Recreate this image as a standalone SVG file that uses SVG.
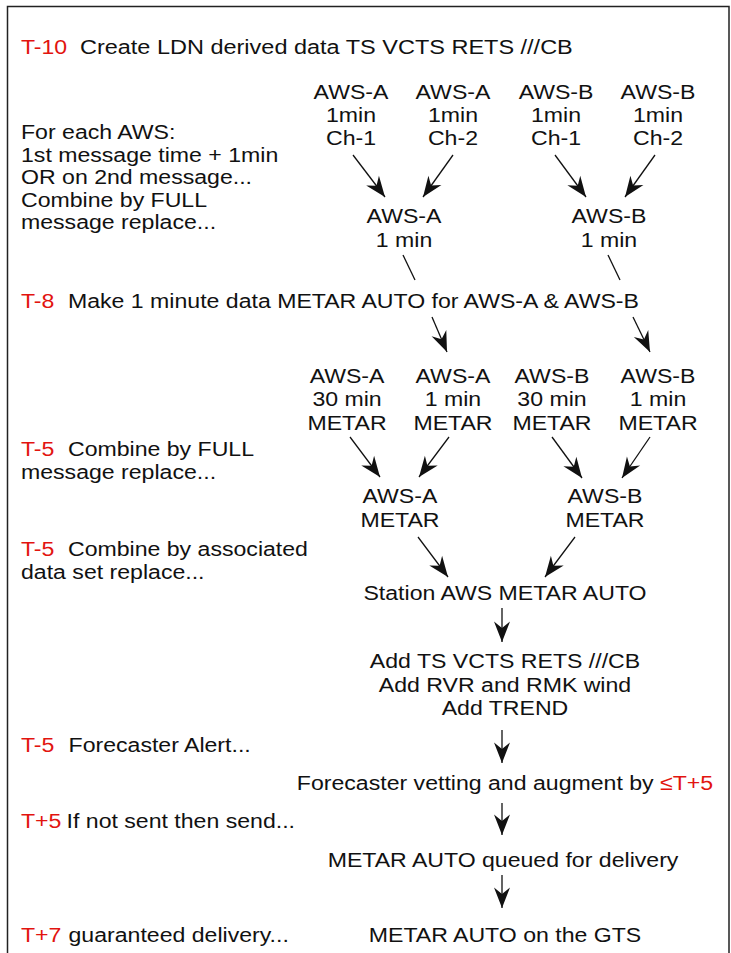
<svg xmlns="http://www.w3.org/2000/svg" width="731" height="953" viewBox="0 0 731 953">
  <style>
    text { font-family: "Liberation Sans", Arial, Helvetica, sans-serif; font-size: 21px; fill: #111; }
    .c { text-anchor: middle; }
    .r { fill: #e2140f; }
    .edge { fill: none; stroke: #111; stroke-width: 1.3; }
    .arr { marker-end: url(#head); }
  </style>
  <defs>
    <marker id="head" viewBox="-22 -10 24 20" markerWidth="24" markerHeight="20" refX="0" refY="0" orient="auto" markerUnits="userSpaceOnUse">
      <path d="M0,0 L-20.5,-8 L-14,0 L-20.5,8 Z" fill="#111"/>
    </marker>
  </defs>

  <rect x="0" y="0" width="731" height="953" fill="#fff"/>
  <!-- frame, open at the bottom edge -->
  <path d="M7.5,960 V6.5 H729 V960" fill="none" stroke="#222" stroke-width="1.5"/>

  <!-- timeline annotations on the left (text is widened 10% horizontally) -->
  <g id="notes" transform="scale(1.1 1)">
    <text x="19.1" y="54"><tspan class="r">T-10</tspan><tspan x="72.7" textLength="448" lengthAdjust="spacingAndGlyphs">Create LDN derived data TS VCTS RETS ///CB</tspan></text>
    <text x="19.1" y="139">For each AWS:</text>
    <text x="19.1" y="162">1st message time + 1min</text>
    <text x="19.1" y="184.5">OR on 2nd message...</text>
    <text x="19.1" y="207">Combine by FULL</text>
    <text x="19.1" y="229.5">message replace...</text>
    <text x="19.1" y="308"><tspan class="r">T-8</tspan><tspan x="61.8">Make 1 minute data METAR AUTO for AWS-A &amp; AWS-B</tspan></text>
    <text x="19.1" y="456"><tspan class="r">T-5</tspan><tspan x="61.8">Combine by FULL</tspan></text>
    <text x="19.1" y="479">message replace...</text>
    <text x="19.1" y="556"><tspan class="r">T-5</tspan><tspan x="61.8">Combine by associated</tspan></text>
    <text x="19.1" y="579.5">data set replace...</text>
    <text x="19.1" y="752"><tspan class="r">T-5</tspan><tspan x="62.3">Forecaster Alert...</tspan></text>
    <text x="19.1" y="828"><tspan class="r">T+5</tspan><tspan x="60.5">If not sent then send...</tspan></text>
    <text x="19.1" y="942"><tspan class="r">T+7</tspan><tspan x="62.3">guaranteed delivery...</tspan></text>
  </g>

  <!-- raw 1 minute channels -->
  <g id="aws-a-ch1" transform="scale(1.1 1)"><text class="c"><tspan x="319.1" y="99">AWS-A</tspan><tspan x="319.1" y="122">1min</tspan><tspan x="319.1" y="145">Ch-1</tspan></text></g>
  <g id="aws-a-ch2" transform="scale(1.1 1)"><text class="c"><tspan x="411.8" y="99">AWS-A</tspan><tspan x="411.8" y="122">1min</tspan><tspan x="411.8" y="145">Ch-2</tspan></text></g>
  <g id="aws-b-ch1" transform="scale(1.1 1)"><text class="c"><tspan x="505.5" y="99">AWS-B</tspan><tspan x="505.5" y="122">1min</tspan><tspan x="505.5" y="145">Ch-1</tspan></text></g>
  <g id="aws-b-ch2" transform="scale(1.1 1)"><text class="c"><tspan x="598.2" y="99">AWS-B</tspan><tspan x="598.2" y="122">1min</tspan><tspan x="598.2" y="145">Ch-2</tspan></text></g>

  <!-- combined 1 minute data -->
  <g id="aws-a-1min" transform="scale(1.1 1)"><text class="c"><tspan x="367.3" y="223">AWS-A</tspan><tspan x="367.3" y="247">1 min</tspan></text></g>
  <g id="aws-b-1min" transform="scale(1.1 1)"><text class="c"><tspan x="553.6" y="223">AWS-B</tspan><tspan x="553.6" y="247">1 min</tspan></text></g>

  <!-- METAR inputs -->
  <g id="aws-a-30-metar" transform="scale(1.1 1)"><text class="c"><tspan x="315.5" y="383">AWS-A</tspan><tspan x="315.5" y="406">30 min</tspan><tspan x="315.5" y="430">METAR</tspan></text></g>
  <g id="aws-a-1-metar" transform="scale(1.1 1)"><text class="c"><tspan x="411.8" y="383">AWS-A</tspan><tspan x="411.8" y="406">1 min</tspan><tspan x="411.8" y="430">METAR</tspan></text></g>
  <g id="aws-b-30-metar" transform="scale(1.1 1)"><text class="c"><tspan x="501.8" y="383">AWS-B</tspan><tspan x="501.8" y="406">30 min</tspan><tspan x="501.8" y="430">METAR</tspan></text></g>
  <g id="aws-b-1-metar" transform="scale(1.1 1)"><text class="c"><tspan x="598.2" y="383">AWS-B</tspan><tspan x="598.2" y="406">1 min</tspan><tspan x="598.2" y="430">METAR</tspan></text></g>

  <!-- per-station METAR -->
  <g id="aws-a-metar" transform="scale(1.1 1)"><text class="c"><tspan x="363.6" y="503">AWS-A</tspan><tspan x="363.6" y="527">METAR</tspan></text></g>
  <g id="aws-b-metar" transform="scale(1.1 1)"><text class="c"><tspan x="550" y="503">AWS-B</tspan><tspan x="550" y="527">METAR</tspan></text></g>

  <!-- delivery chain -->
  <g id="station-metar" transform="scale(1.1 1)"><text class="c" x="459.1" y="600">Station AWS METAR AUTO</text></g>
  <g id="augment" transform="scale(1.1 1)"><text class="c"><tspan x="459.1" y="668">Add TS VCTS RETS ///CB</tspan><tspan x="459.1" y="692">Add RVR and RMK wind</tspan><tspan x="459.1" y="715">Add TREND</tspan></text></g>
  <g id="vetting" transform="scale(1.1 1)"><text class="c" x="459.1" y="790">Forecaster vetting and augment by <tspan class="r">≤T+5</tspan></text></g>
  <g id="queued" transform="scale(1.1 1)"><text class="c" x="457.3" y="867">METAR AUTO queued for delivery</text></g>
  <g id="gts" transform="scale(1.1 1)"><text class="c" x="459.1" y="942">METAR AUTO on the GTS</text></g>

  <!-- connectors -->
  <g id="connectors">
    <path class="edge arr" d="M353,155 L385,197"/>
    <path class="edge arr" d="M453,155 L423,197"/>
    <path class="edge arr" d="M555,155 L586,197"/>
    <path class="edge arr" d="M655,155 L625,197"/>
    <path class="edge" d="M403,255 L415,280"/>
    <path class="edge" d="M608,255 L620,280"/>
    <path class="edge arr" d="M432,317 L447,352"/>
    <path class="edge arr" d="M633,317 L650,352"/>
    <path class="edge arr" d="M350,437 L380,477"/>
    <path class="edge arr" d="M449,437 L419,477"/>
    <path class="edge arr" d="M552,437 L582,478"/>
    <path class="edge arr" d="M650,437 L622,478"/>
    <path class="edge arr" d="M418,537 L448,577"/>
    <path class="edge arr" d="M575,537 L545,577"/>
    <path class="edge arr" d="M502,608 L502,642"/>
    <path class="edge arr" d="M502,730 L502,763"/>
    <path class="edge arr" d="M502,803 L502,835"/>
    <path class="edge arr" d="M502,875 L502,908"/>
  </g>
</svg>
